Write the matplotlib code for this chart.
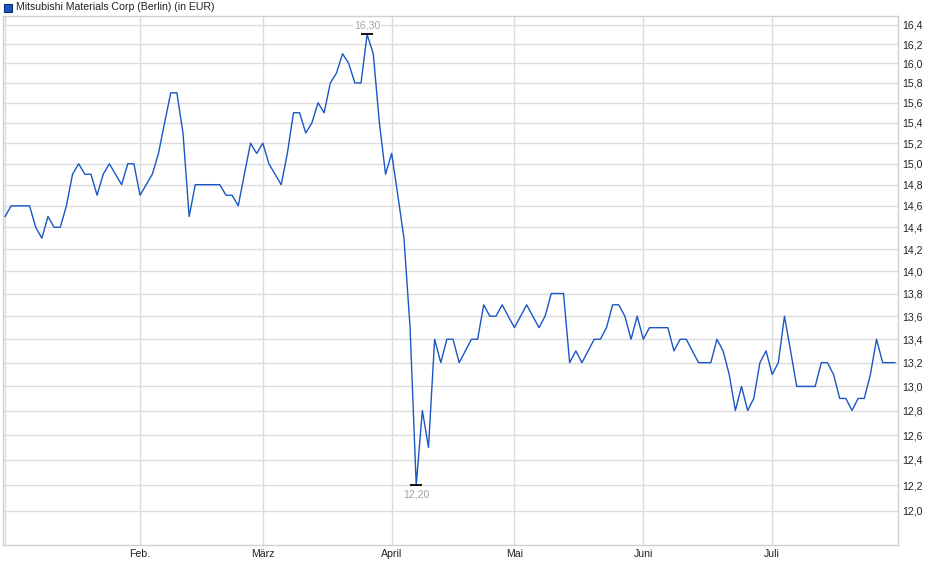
import matplotlib
matplotlib.use("Agg")
import matplotlib.pyplot as plt
from matplotlib.ticker import FixedLocator, NullLocator, FuncFormatter

plt.rcParams['font.family'] = ['Liberation Sans', 'DejaVu Sans']

title = "Mitsubishi Materials Corp (Berlin) (in EUR)"

# daily closing prices (trading-day index), Jan - Jul
prices = [
    14.5, 14.6, 14.6, 14.6, 14.6, 14.4, 14.3, 14.5, 14.4, 14.4,
    14.6, 14.9, 15.0, 14.9, 14.9, 14.7, 14.9, 15.0, 14.9, 14.8,
    15.0, 15.0, 14.7, 14.8, 14.9, 15.1, 15.4, 15.7, 15.7, 15.3,
    14.5, 14.8, 14.8, 14.8, 14.8, 14.8, 14.7, 14.7, 14.6, 14.9,
    15.2, 15.1, 15.2, 15.0, 14.9, 14.8, 15.1, 15.5, 15.5, 15.3,
    15.4, 15.6, 15.5, 15.8, 15.9, 16.1, 16.0, 15.8, 15.8, 16.3,
    16.1, 15.4, 14.9, 15.1, 14.7, 14.3, 13.5, 12.2, 12.8, 12.5,
    13.4, 13.2, 13.4, 13.4, 13.2, 13.3, 13.4, 13.4, 13.7, 13.6,
    13.6, 13.7, 13.6, 13.5, 13.6, 13.7, 13.6, 13.5, 13.6, 13.8,
    13.8, 13.8, 13.2, 13.3, 13.2, 13.3, 13.4, 13.4, 13.5, 13.7,
    13.7, 13.6, 13.4, 13.6, 13.4, 13.5, 13.5, 13.5, 13.5, 13.3,
    13.4, 13.4, 13.3, 13.2, 13.2, 13.2, 13.4, 13.3, 13.1, 12.8,
    13.0, 12.8, 12.9, 13.2, 13.3, 13.1, 13.2, 13.6, 13.3, 13.0,
    13.0, 13.0, 13.0, 13.2, 13.2, 13.1, 12.9, 12.9, 12.8, 12.9,
    12.9, 13.1, 13.4, 13.2, 13.2, 13.2,
]

month_labels = ["Feb.", "März", "April", "Mai", "Juni", "Juli"]
month_pos = [22, 42, 63, 83, 104, 125]

y_ticks = [12.0, 12.2, 12.4, 12.6, 12.8, 13.0, 13.2, 13.4, 13.6, 13.8, 14.0,
           14.2, 14.4, 14.6, 14.8, 15.0, 15.2, 15.4, 15.6, 15.8, 16.0, 16.2, 16.4]

W, H = 940, 579
fig = plt.figure(figsize=(W / 100, H / 100), dpi=100)
ax = fig.add_axes([3 / W, 1 - 545 / H, (898 - 3) / W, (545 - 16) / H])

line_color = "#1a56c4"
xs = list(range(len(prices)))
ax.plot(xs, prices, color=line_color, lw=1.0, zorder=3)

ax.set_yscale('log')
ax.set_xlim(-0.33, 145.5)
ax.set_ylim(11.74, 16.495)

ax.yaxis.set_major_locator(FixedLocator(y_ticks))
ax.yaxis.set_minor_locator(NullLocator())
ax.yaxis.set_major_formatter(FuncFormatter(lambda v, p: f"{v:.1f}".replace('.', ',')))
ax.yaxis.tick_right()

ax.xaxis.set_major_locator(FixedLocator(month_pos))
ax.xaxis.set_minor_locator(FixedLocator([0]))
ax.set_xticklabels(month_labels)

ax.grid(True, which='major', color="#dcdcdc", lw=1.0, zorder=0)
ax.grid(True, which='minor', axis='x', color="#dcdcdc", lw=1.0, zorder=0)
ax.tick_params(axis='both', which='both', length=0, labelsize=7.6, colors="#222222")
ax.tick_params(axis='y', pad=3)
ax.tick_params(axis='x', pad=3)
for s in ax.spines.values():
    s.set_color("#d0d0d0")
    s.set_linewidth(1.0)

# max / min annotations
imax = prices.index(max(prices))
imin = prices.index(min(prices))
ann_color = "#a3a3ab"
ax.plot([imax], [prices[imax]], marker='_', ms=9, mew=1.3, color='black', zorder=4)
ax.plot([imin], [prices[imin]], marker='_', ms=9, mew=1.3, color='black', zorder=4)
ax.annotate(f"{prices[imax]:.2f}".replace('.', ','), (imax, prices[imax]),
            xytext=(0, 6.8), textcoords='offset points', ha='center', va='center',
            fontsize=7.6, color=ann_color,
            bbox=dict(facecolor='white', edgecolor='none', pad=0.5), zorder=5)
ax.annotate(f"{prices[imin]:.2f}".replace('.', ','), (imin, prices[imin]),
            xytext=(0, -7), textcoords='offset points', ha='center', va='center',
            fontsize=7.6, color=ann_color,
            bbox=dict(facecolor='white', edgecolor='none', pad=0.5), zorder=5)

# legend
fig.patches.append(plt.Rectangle((4 / W, 1 - 11.5 / H), 8 / W, 8 / H,
                                 transform=fig.transFigure, facecolor="#1a56c4",
                                 edgecolor="#0f2f70", lw=0.8))
fig.text(16 / W, 1 - 6.5 / H, title, ha='left', va='center', fontsize=7.6, color="#222222")

fig.savefig("out.png", dpi=100)
